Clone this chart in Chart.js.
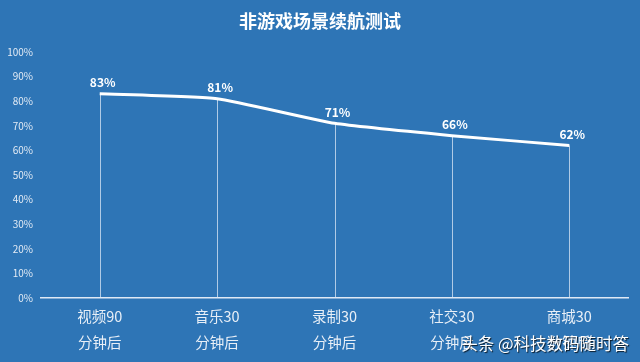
<!DOCTYPE html>
<html>
<head>
<meta charset="utf-8">
<script src="https://cdn.jsdelivr.net/npm/chart.js@4/dist/chart.umd.min.js"></script>
<style>
  html, body { margin: 0; padding: 0; background: #2e75b6; }
  #wrap { width: 640px; height: 362px; position: relative; }
</style>
</head>
<body>
<div id="wrap"><canvas id="c" width="640" height="362"></canvas></div>
<script>
// chart data
const categories = [['视频90', '分钟后'], ['音乐30', '分钟后'], ['录制30', '分钟后'], ['社交30', '分钟后'], ['商城30', '分钟后']];
const batteryLeft = [83, 81, 71, 66, 62];
const titleText = '非游戏场景续航测试';
const watermark = '头条 @科技数码随时答';

const FONT = '"Noto Sans CJK SC", "Noto Sans", sans-serif';

// drop lines, value labels, title and watermark
const extras = {
    id: 'extras',
    beforeDatasetsDraw(chart) {
        const ctx = chart.ctx;
        const meta = chart.getDatasetMeta(0);
        const yBase = chart.scales.y.getPixelForValue(0);
        ctx.save();
        ctx.strokeStyle = 'rgba(220,232,245,0.75)';
        ctx.lineWidth = 1;
        for (let p of meta.data) {
            ctx.beginPath();
            ctx.moveTo(Math.round(p.x) + 0.5, p.y);
            ctx.lineTo(Math.round(p.x) + 0.5, yBase);
            ctx.stroke();
        }
        ctx.restore();
    },
    afterDatasetsDraw(chart) {
        const ctx = chart.ctx;
        const meta = chart.getDatasetMeta(0);
        ctx.save();
        ctx.fillStyle = '#ffffff';
        ctx.font = 'bold 12px ' + FONT;
        ctx.textAlign = 'center';
        ctx.textBaseline = 'bottom';
        meta.data.forEach((p, i) => {
            ctx.fillText(batteryLeft[i] + '%', p.x + 3, p.y - 5);
        });

        // title
        ctx.font = 'bold 18px ' + FONT;
        ctx.textBaseline = 'middle';
        ctx.fillText(titleText, 320, 21);

        // watermark
        ctx.font = '16.5px ' + FONT;
        ctx.textAlign = 'right';
        ctx.shadowColor = 'rgba(0,0,0,0.8)';
        ctx.shadowOffsetX = 1;
        ctx.shadowOffsetY = 1;
        ctx.shadowBlur = 1;
        ctx.fillText(watermark, 629, 344);
        ctx.restore();
    }
};

new Chart(document.getElementById('c'), {
    type: 'line',
    data: {
        labels: categories,
        datasets: [{
            data: batteryLeft,
            borderColor: '#ffffff',
            borderWidth: 3,
            tension: 0.15,
            pointRadius: 0,
            fill: false
        }]
    },
    options: {
        responsive: false,
        animation: false,
        layout: { padding: { top: 52, right: 12, left: 0, bottom: 0 } },
        plugins: {
            legend: { display: false },
            tooltip: { enabled: false }
        },
        scales: {
            x: {
                offset: true,
                grid: { display: false, drawTicks: false },
                border: { color: '#dfe9f5', width: 1.5 },
                ticks: {
                    color: '#e8eff7',
                    font: { family: FONT, size: 14.5, lineHeight: 1.8 },
                    padding: 5,
                    maxRotation: 0
                },
                afterFit(axis) { axis.height = 64; }
            },
            y: {
                min: 0,
                max: 100,
                grid: { display: false, drawTicks: false },
                border: { display: false },
                ticks: {
                    stepSize: 10,
                    color: '#e3ebf5',
                    font: { family: FONT, size: 10 },
                    padding: 8,
                    callback: v => v + '%'
                },
                afterFit(axis) { axis.width = 41; }
            }
        }
    },
    plugins: [extras]
});
</script>
</body>
</html>
